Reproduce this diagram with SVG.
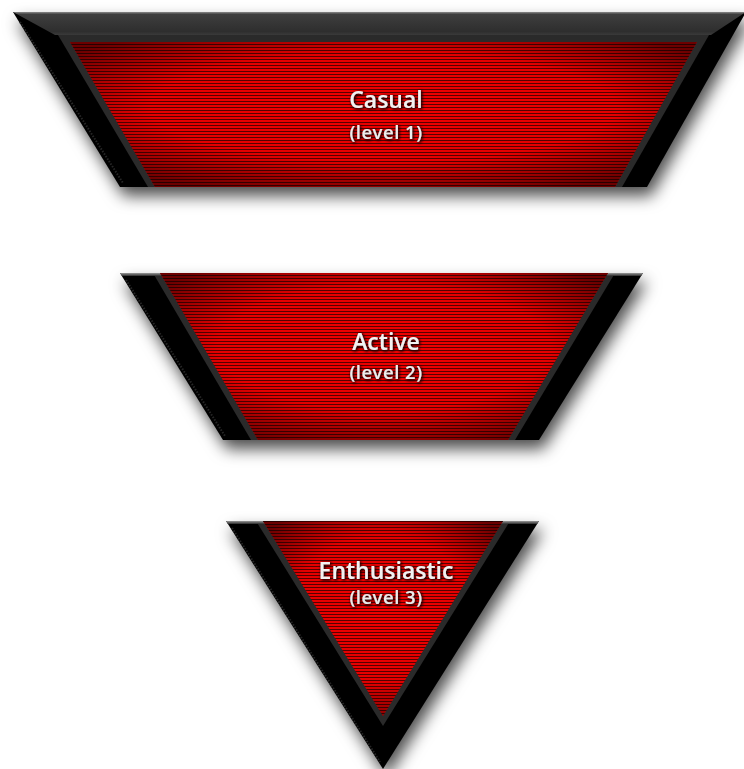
<svg xmlns="http://www.w3.org/2000/svg" width="744" height="769" viewBox="0 0 744 769">
  <defs>
    <pattern id="stripes" patternUnits="userSpaceOnUse" width="6" height="3">
      <rect width="6" height="3" fill="#f00000"/>
      <rect y="2" width="6" height="1" fill="#5a0000"/>
    </pattern>
    <radialGradient id="vignette" cx="0.5" cy="0.45" r="0.62">
      <stop offset="0" stop-color="#000" stop-opacity="0"/>
      <stop offset="0.6" stop-color="#000" stop-opacity="0.05"/>
      <stop offset="1" stop-color="#000" stop-opacity="0.55"/>
    </radialGradient>
    <linearGradient id="topface" x1="0" y1="0" x2="0" y2="1">
      <stop offset="0" stop-color="#8a8a8a"/>
      <stop offset="0.1" stop-color="#3e3e3e"/>
      <stop offset="0.85" stop-color="#2e2e2e"/>
      <stop offset="1" stop-color="#3a3a3a"/>
    </linearGradient>
    <linearGradient id="cap" x1="0" y1="0" x2="0" y2="1">
      <stop offset="0" stop-color="#9a9a9a"/>
      <stop offset="1" stop-color="#2a2a2a"/>
    </linearGradient>
    <filter id="shadow" x="-12%" y="-12%" width="130%" height="150%">
      <feGaussianBlur in="SourceAlpha" stdDeviation="8"/>
      <feOffset dx="4" dy="9" result="b"/>
      <feFlood flood-color="#000" flood-opacity="0.7"/>
      <feComposite in2="b" operator="in" result="s"/>
      <feMerge><feMergeNode in="s"/><feMergeNode in="SourceGraphic"/></feMerge>
    </filter>
    <filter id="txtshadow" x="-20%" y="-40%" width="140%" height="180%">
      <feGaussianBlur in="SourceAlpha" stdDeviation="1.6"/>
      <feOffset dx="0.5" dy="1" result="b"/>
      <feFlood flood-color="#200000" flood-opacity="0.95"/>
      <feComposite in2="b" operator="in" result="s"/>
      <feMerge><feMergeNode in="s"/><feMergeNode in="s"/><feMergeNode in="SourceGraphic"/></feMerge>
    </filter>
  </defs>
  <style>
    .outer { fill: #030303; }
    .bevel { fill: #2a2a2a; }
    .red { fill: url(#stripes); }
    .vig { fill: url(#vignette); }
    .edge { fill: none; stroke: #262626; stroke-width: 2; stroke-dasharray: 1.5 1.5; }
    .title { font-family: "Open Sans", "Liberation Sans", sans-serif; font-weight: 600; font-size: 23px; fill: #f2f2f2; text-anchor: middle; }
    .sub { font-family: "Open Sans", "Liberation Sans", sans-serif; font-weight: 600; font-size: 18.5px; fill: #ececec; text-anchor: middle; letter-spacing: 0.5px; }
  </style>
  <rect width="744" height="769" fill="#ffffff"/>

  <g id="node-casual">
    <polygon class="outer" filter="url(#shadow)" points="13,12 746,12 647,187 120,187"/>
    <polyline class="edge" points="20,22 123,183"/>
    <polygon fill="url(#topface)" points="13,12 746,12 711,35 55,35"/>
    <polygon class="bevel" points="58,35 709,35 622,187 148,187"/>
    <polygon class="red" points="70,42 697,42 615,187 155,187"/>
    <polygon class="vig" points="70,42 697,42 615,187 155,187"/>
    <g filter="url(#txtshadow)">
      <text class="title" x="386" y="108">Casual</text>
      <text class="sub" x="386" y="139">(level 1)</text>
    </g>
  </g>

  <g id="node-active">
    <polygon class="outer" filter="url(#shadow)" points="120,273 643,273 539,440 223,440"/>
    <polyline class="edge" points="126,280 225,436"/>
    <polygon class="bevel" points="153,273 615,273 515,440 251,440"/>
    <polygon fill="url(#cap)" points="120,273 160,273 162,276 122,276"/>
    <polygon fill="url(#cap)" points="608,273 643,273 641,276 606,276"/>
    <polygon class="red" points="160,273 608,273 508,440 258,440"/>
    <polygon class="vig" points="160,273 608,273 508,440 258,440"/>
    <g filter="url(#txtshadow)">
      <text class="title" x="386" y="350">Active</text>
      <text class="sub" x="386" y="379">(level 2)</text>
    </g>
  </g>

  <g id="node-enthusiastic">
    <polygon class="outer" filter="url(#shadow)" points="226,521 539,521 383,769"/>
    <polyline class="edge" points="232,528 380,762"/>
    <polygon class="bevel" points="256,521 510,521 383,726"/>
    <polygon fill="url(#cap)" points="226,521 263,521 265,524 228,524"/>
    <polygon fill="url(#cap)" points="503,521 539,521 537,524 501,524"/>
    <polygon class="red" points="263,521 503,521 383,716"/>
    <polygon class="vig" points="263,521 503,521 383,716"/>
    <g filter="url(#txtshadow)">
      <text class="title" x="386" y="579">Enthusiastic</text>
      <text class="sub" x="386" y="604">(level 3)</text>
    </g>
  </g>
</svg>
